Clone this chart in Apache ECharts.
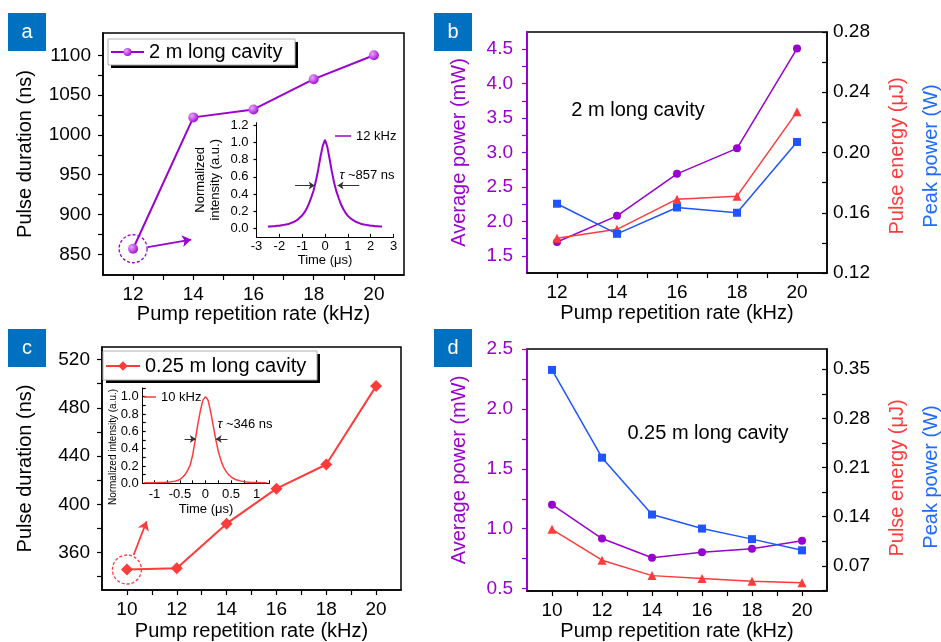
<!DOCTYPE html>
<html>
<head>
<meta charset="utf-8">
<title></title>
<style>
  html, body { margin: 0; padding: 0; background: #fff; }
  #main { width: 941px; height: 642px; }
</style>
</head>
<body>
<div id="main"></div>
<script src="https://cdn.jsdelivr.net/npm/echarts@6/dist/echarts.min.js"></script>
<script>
// repetition rates (kHz)
var rateLong = [12, 14, 16, 18, 20];
var rateShort = [10, 12, 14, 16, 18, 20];
// pulse duration (ns)
var durationLong = [857, 1022, 1032, 1070, 1100];
var durationShort = [346, 347, 384, 413, 433, 498];
// 2 m cavity: average power (mW), pulse energy (uJ), peak power (W)
var avgPowerLong = [1.70, 2.08, 2.69, 3.06, 4.51];
var energyLong = [0.143, 0.149, 0.169, 0.171, 0.227];
var peakLong = [0.166, 0.146, 0.1635, 0.160, 0.207];
// 0.25 m cavity
var avgPowerShort = [1.20, 0.918, 0.757, 0.804, 0.832, 0.899];
var energyShort = [0.122, 0.078, 0.056, 0.052, 0.048, 0.046];
var peakShort = [0.349, 0.224, 0.143, 0.123, 0.108, 0.092];
// inset pulse traces (time in us, normalized intensity)
var pulseTimeLong = [-2.5,-2.4,-2.3,-2.2,-2.1,-2.0,-1.9,-1.8,-1.7,-1.6,-1.5,-1.4,-1.3,-1.2,-1.1,-1.0,-0.9,-0.8,-0.7,-0.6,-0.5,-0.4,-0.3,-0.2,-0.1,0,
  0.1,0.2,0.3,0.4,0.5,0.6,0.7,0.8,0.9,1.0,1.1,1.2,1.3,1.4,1.5,1.6,1.7,1.8,1.9,2.0,2.1,2.2,2.3,2.4,2.5];
var pulseLong = [0.02,0.02,0.025,0.025,0.03,0.03,0.035,0.04,0.045,0.05,0.06,0.07,0.085,0.10,0.125,0.15,0.185,0.23,0.29,0.36,0.44,0.55,0.68,0.83,0.96,1.03,
  0.95,0.81,0.66,0.53,0.43,0.35,0.28,0.225,0.18,0.145,0.12,0.10,0.085,0.07,0.06,0.05,0.045,0.04,0.035,0.03,0.03,0.025,0.025,0.02,0.02];
var pulseTimeShort = [-1.2,-1.1,-1.0,-0.9,-0.8,-0.7,-0.6,-0.55,-0.5,-0.45,-0.4,-0.35,-0.3,-0.25,-0.2,-0.15,-0.1,-0.05,0,
  0.05,0.1,0.15,0.2,0.25,0.3,0.35,0.4,0.45,0.5,0.55,0.6,0.7,0.8,0.9,1.0,1.1,1.2];
var pulseShort = [0.005,0.005,0.005,0.008,0.01,0.015,0.025,0.032,0.045,0.07,0.10,0.15,0.21,0.33,0.50,0.68,0.84,0.96,1.0,
  0.96,0.83,0.67,0.51,0.37,0.27,0.19,0.14,0.10,0.075,0.055,0.04,0.025,0.015,0.01,0.008,0.005,0.005];

var font = 'Liberation Sans';
var purple = '#9A00CF', red = '#FF3B3B', blue = '#1E55FF', black = '#000';

function steps(a, b, s) {
  var out = [];
  for (var v = a; v <= b + 1e-9; v += s) out.push(Math.round(v * 1e6) / 1e6);
  return out;
}
function pairs(xs, ys) {
  return xs.map(function (x, i) { return [x, ys[i]]; });
}

function rateAxis(grid, min, max, labels, gap) {
  return {
    type: 'value', gridIndex: grid, min: min, max: max,
    name: 'Pump repetition rate (kHz)', nameLocation: 'middle', nameGap: gap,
    nameTextStyle: { fontSize: 20, color: black, fontFamily: font },
    axisLine: { onZero: false, lineStyle: { color: black, width: 1.5 } },
    axisTick: { customValues: steps(labels[0], labels[labels.length - 1], 1), length: 5, lineStyle: { color: black, width: 1.2 } },
    axisLabel: { customValues: labels, fontSize: 19, color: black, margin: 10, fontFamily: font },
    splitLine: { show: false }
  };
}

function valueAxis(o) {
  return {
    type: 'value', gridIndex: o.grid, min: o.min, max: o.max, position: o.pos || 'left',
    name: o.name || '', nameLocation: 'middle', nameGap: o.gap || 0,
    nameTextStyle: { fontSize: o.nameSize || 20, color: o.color, fontFamily: font, lineHeight: o.nameLh },
    axisLine: { show: true, onZero: false, lineStyle: { color: o.lineColor || o.color, width: o.lw || 1.5 } },
    axisTick: { customValues: o.ticks, inside: !!o.inside, length: o.tl || 5, lineStyle: { color: o.lineColor || o.color, width: 1.2 } },
    axisLabel: {
      customValues: o.labels, fontSize: o.fs || 19, color: o.color, margin: o.margin, fontFamily: font,
      formatter: function (v) { return o.digits == null ? String(v) : v.toFixed(o.digits); }
    },
    splitLine: { show: false }
  };
}

function insetTimeAxis(grid, min, max, labels, tickVals, gap, margin) {
  return {
    type: 'value', gridIndex: grid, min: min, max: max,
    name: 'Time (\u03bcs)', nameLocation: 'middle', nameGap: gap,
    nameTextStyle: { fontSize: 13, color: black, fontFamily: font },
    axisLine: { onZero: false, lineStyle: { color: black, width: 1 } },
    axisTick: { customValues: tickVals, length: 3, inside: true, lineStyle: { color: black } },
    axisLabel: { customValues: labels, fontSize: 13, color: black, margin: margin, fontFamily: font },
    splitLine: { show: false }
  };
}

function panelTag(x, y, letter) {
  return [
    { type: 'rect', shape: { x: x, y: y, width: 38, height: 38 }, style: { fill: '#0070C0' }, z: 1 },
    { type: 'text', x: x + 19, y: y + 19, z: 2,
      style: { text: letter, fill: '#fff', font: '20px ' + font, align: 'center', verticalAlign: 'middle', textAlign: 'center', textVerticalAlign: 'middle' } }
  ];
}
function legendFrame(x, y, w, h) {
  return [
    { type: 'rect', shape: { x: x + 3, y: y + 3, width: w, height: h }, style: { fill: '#000' }, z: 1 },
    { type: 'rect', shape: { x: x, y: y, width: w, height: h }, style: { fill: '#fff', stroke: '#b0b0b0', lineWidth: 1 }, z: 1 }
  ];
}
function label(x, y, text, color, size, rot) {
  return { type: 'text', x: x, y: y, rotation: rot || 0, z: 3,
    style: { text: text, fill: color, font: size + 'px ' + font, align: 'center', verticalAlign: 'middle', textAlign: 'center', textVerticalAlign: 'middle',
      rich: { t: { fontStyle: 'italic', fontSize: size, fontFamily: font, fill: color } } } };
}

var sphere = new echarts.graphic.RadialGradient(0.35, 0.35, 0.75, [
  { offset: 0, color: '#EBA6FF' }, { offset: 1, color: purple }
]);

var graphics = [].concat(
  panelTag(8, 13, 'a'), panelTag(434, 13, 'b'), panelTag(8, 329, 'c'), panelTag(434, 329, 'd'),
  legendFrame(108, 39, 187, 26), legendFrame(103, 351, 214, 29),
  [
    label(367, 175, '{t|\u03c4} ~857 ns', black, 13),
    label(245, 424, '{t|\u03c4} ~346 ns', black, 13),
    label(113, 447, 'Normalized intensity (a.u.)', black, 10, Math.PI / 2),
    label(638, 110, '2 m long cavity', black, 20),
    label(708, 433, '0.25 m long cavity', black, 20),
    label(897, 156, 'Pulse energy (\u03bcJ)', red, 20, Math.PI / 2),
    label(931, 156, 'Peak power (W)', '#1E6BFF', 20, Math.PI / 2),
    label(897, 478, 'Pulse energy (\u03bcJ)', red, 20, Math.PI / 2),
    label(931, 477, 'Peak power (W)', '#1E6BFF', 20, Math.PI / 2)
  ]
);

var frame = { show: true, borderColor: black, borderWidth: 1.5, backgroundColor: 'transparent' };

function arrowLine(color, width, size, segments) {
  return {
    silent: true, symbol: ['none', 'arrow'], symbolSize: size, label: { show: false },
    lineStyle: { color: color, width: width, type: 'solid' },
    emphasis: { disabled: true },
    data: segments.map(function (s) { return [{ coord: s[0] }, { coord: s[1] }]; })
  };
}

var option = {
  animation: false,
  textStyle: { fontFamily: font },
  graphic: { elements: graphics },
  grid: [
    Object.assign({ left: 103, top: 33, width: 301, height: 242 }, frame),
    { left: 256.5, top: 122.7, width: 137, height: 114.2, show: false },
    Object.assign({ left: 527, top: 32, width: 300, height: 241 }, frame),
    Object.assign({ left: 102, top: 347, width: 299, height: 243 }, frame),
    { left: 142.7, top: 388, width: 126.6, height: 95.3, show: false },
    Object.assign({ left: 527, top: 349, width: 300, height: 243 }, frame)
  ],
  legend: [
    { data: ['2 m long cavity'], left: 110, top: 42, padding: 0, itemWidth: 33, itemHeight: 10, z: 5,
      textStyle: { fontSize: 20, lineHeight: 20, color: black, fontFamily: font } },
    { data: ['12 kHz'], left: 335, top: 128, padding: 0, icon: 'rect', itemWidth: 16, itemHeight: 1.5, z: 5,
      textStyle: { fontSize: 13, lineHeight: 16, color: black, fontFamily: font } },
    { data: ['0.25 m long cavity'], left: 105, top: 356, padding: 0, itemWidth: 34, itemHeight: 12, z: 5,
      textStyle: { fontSize: 20, lineHeight: 20, color: black, fontFamily: font } },
    { data: ['10 kHz'], left: 144, top: 389, padding: 0, icon: 'rect', itemWidth: 12, itemHeight: 1.5, z: 5,
      textStyle: { fontSize: 13, lineHeight: 16, color: black, fontFamily: font } }
  ],
  xAxis: [
    rateAxis(0, 11, 21, [12, 14, 16, 18, 20], 28),
    insetTimeAxis(1, -3, 3, steps(-3, 3, 1), steps(-3, 3, 1), 15, 3),
    rateAxis(2, 11, 21, [12, 14, 16, 18, 20], 30),
    rateAxis(3, 9, 21, [10, 12, 14, 16, 18, 20], 31),
    insetTimeAxis(4, -1.23, 1.25, [-1, -0.5, 0, 0.5, 1], steps(-1, 1.25, 0.25), 20, 5),
    rateAxis(5, 9, 21, [10, 12, 14, 16, 18, 20], 30)
  ],
  yAxis: [
    valueAxis({ grid: 0, min: 824, max: 1128, color: black, name: 'Pulse duration (ns)', gap: 68,
      labels: steps(850, 1100, 50), ticks: steps(850, 1100, 25), margin: 12 }),
    valueAxis({ grid: 1, min: -0.1, max: 1.23, color: black, name: 'Normalized\nintensity (a.u.)', gap: 34, nameSize: 13, nameLh: 15,
      labels: steps(0, 1.2, 0.2), ticks: steps(0, 1.2, 0.2), digits: 1, fs: 13, margin: 8, lw: 1, tl: 3 }),
    valueAxis({ grid: 2, min: 1.25, max: 4.75, color: purple, name: 'Average power (mW)', gap: 58,
      labels: steps(1.5, 4.5, 0.5), ticks: steps(1.5, 4.5, 0.25), digits: 1, margin: 14, lw: 2 }),
    valueAxis({ grid: 2, min: 0.12, max: 0.28, color: black, pos: 'right',
      labels: steps(0.12, 0.28, 0.04), ticks: steps(0.12, 0.28, 0.02), digits: 2, margin: 6, inside: true }),
    valueAxis({ grid: 3, min: 329, max: 530.4, color: black, name: 'Pulse duration (ns)', gap: 67,
      labels: steps(360, 520, 40), ticks: steps(340, 520, 20), margin: 12 }),
    valueAxis({ grid: 4, min: 0, max: 1.1, color: black,
      labels: steps(0, 1.0, 0.2), ticks: steps(0, 1.1, 0.1), digits: 1, fs: 13, margin: 4, lw: 1, tl: 3, inside: true }),
    valueAxis({ grid: 5, min: 0.48, max: 2.5, color: purple, name: 'Average power (mW)', gap: 58,
      labels: steps(0.5, 2.5, 0.5), ticks: steps(0.5, 2.5, 0.25), digits: 1, margin: 14, lw: 2 }),
    valueAxis({ grid: 5, min: 0.0341, max: 0.3788, color: black, pos: 'right',
      labels: steps(0.07, 0.35, 0.07), ticks: steps(0.035, 0.35, 0.035), digits: 2, margin: 6, inside: true })
  ],
  series: [
    {
      name: '2 m long cavity', type: 'line', xAxisIndex: 0, yAxisIndex: 0,
      data: pairs(rateLong, durationLong),
      symbol: 'circle', symbolSize: 10,
      lineStyle: { color: purple, width: 2 }, itemStyle: { color: sphere },
      markPoint: {
        silent: true, symbol: 'circle', symbolSize: 28, label: { show: false },
        itemStyle: { color: 'rgba(0,0,0,0)', borderColor: purple, borderWidth: 1.3, borderType: [3, 2] },
        data: [{ coord: [12, 857] }]
      },
      markLine: arrowLine(purple, 1.8, 9, [[[12.49, 859], [13.93, 868.5]]])
    },
    {
      name: '12 kHz', type: 'line', xAxisIndex: 1, yAxisIndex: 1,
      data: pairs(pulseTimeLong, pulseLong), symbol: 'none',
      lineStyle: { color: purple, width: 2 }, itemStyle: { color: purple },
      markLine: arrowLine('#333', 1, 6, [[[-1.31, 0.5], [-0.45, 0.5]], [[1.5, 0.5], [0.55, 0.5]]])
    },
    {
      name: 'b avg', type: 'line', xAxisIndex: 2, yAxisIndex: 2,
      data: pairs(rateLong, avgPowerLong), symbol: 'circle', symbolSize: 8,
      lineStyle: { color: purple, width: 1.5 }, itemStyle: { color: purple }
    },
    {
      name: 'b energy', type: 'line', xAxisIndex: 2, yAxisIndex: 3,
      data: pairs(rateLong, energyLong), symbol: 'triangle', symbolSize: 9,
      lineStyle: { color: red, width: 1.5 }, itemStyle: { color: red }
    },
    {
      name: 'b peak', type: 'line', xAxisIndex: 2, yAxisIndex: 3,
      data: pairs(rateLong, peakLong), symbol: 'rect', symbolSize: 8,
      lineStyle: { color: blue, width: 1.5 }, itemStyle: { color: blue }
    },
    {
      name: '0.25 m long cavity', type: 'line', xAxisIndex: 3, yAxisIndex: 4,
      data: pairs(rateShort, durationShort), symbol: 'diamond', symbolSize: 12,
      lineStyle: { color: red, width: 2 }, itemStyle: { color: red },
      markPoint: {
        silent: true, symbol: 'circle', symbolSize: 29, label: { show: false },
        itemStyle: { color: 'rgba(0,0,0,0)', borderColor: red, borderWidth: 1.3, borderType: [3, 2] },
        data: [{ coord: [10, 346] }]
      },
      markLine: arrowLine(red, 1.8, 9, [[[10.27, 358], [10.79, 386]]])
    },
    {
      name: '10 kHz', type: 'line', xAxisIndex: 4, yAxisIndex: 5,
      data: pairs(pulseTimeShort, pulseShort), symbol: 'none',
      lineStyle: { color: red, width: 1.5 }, itemStyle: { color: red },
      markLine: arrowLine('#333', 1, 6, [[[-0.41, 0.51], [-0.19, 0.51]], [[0.43, 0.51], [0.2, 0.51]]])
    },
    {
      name: 'd avg', type: 'line', xAxisIndex: 5, yAxisIndex: 6,
      data: pairs(rateShort, avgPowerShort), symbol: 'circle', symbolSize: 8,
      lineStyle: { color: purple, width: 1.5 }, itemStyle: { color: purple }
    },
    {
      name: 'd energy', type: 'line', xAxisIndex: 5, yAxisIndex: 7,
      data: pairs(rateShort, energyShort), symbol: 'triangle', symbolSize: 9,
      lineStyle: { color: red, width: 1.5 }, itemStyle: { color: red }
    },
    {
      name: 'd peak', type: 'line', xAxisIndex: 5, yAxisIndex: 7,
      data: pairs(rateShort, peakShort), symbol: 'rect', symbolSize: 8,
      lineStyle: { color: blue, width: 1.5 }, itemStyle: { color: blue }
    }
  ]
};

var myChart = echarts.init(document.getElementById('main'));
myChart.setOption(option);
</script>
</body>
</html>
